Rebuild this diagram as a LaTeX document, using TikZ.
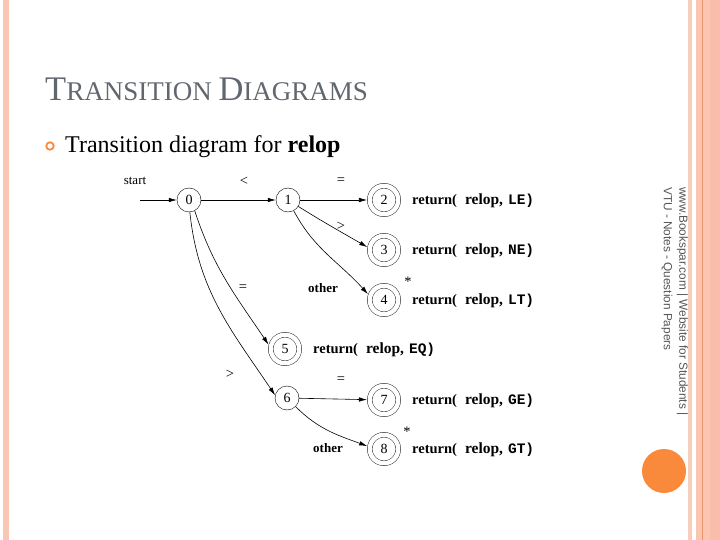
\documentclass[tikz,border=0pt]{standalone}
\usepackage{fontspec}
\setmainfont{Liberation Serif}
\setsansfont{Liberation Sans}
\setmonofont{Liberation Mono}
\usetikzlibrary{arrows.meta}
\definecolor{salmonA}{HTML}{F8C6B3}
\definecolor{salmonB}{HTML}{F9CDBB}
\definecolor{salmonC}{HTML}{FBC5B1}
\definecolor{salmonD}{HTML}{F9BEA9}
\definecolor{orangeL}{HTML}{E9956C}
\definecolor{orangeC}{HTML}{F98A3C}
\definecolor{titlegray}{HTML}{62676F}
\definecolor{markgray}{HTML}{555555}
\tikzset{
  st/.style={circle, draw, minimum size=24pt, inner sep=0pt, font=\fontsize{14}{14}\selectfont},
  acc/.style={st, minimum size=28.5pt, double=white, double distance=4.5pt, outer sep=2.8pt},
  lbl/.style={inner sep=0pt, font=\fontsize{13}{13}\selectfont},
  sym/.style={inner sep=0pt, font=\fontsize{14.5}{14.5}\selectfont},
  ret/.style={anchor=west, inner sep=0pt, font=\fontsize{14.5}{14.5}\selectfont},
  edge/.style={->, line width=0.6pt},
  wmark/.style={rotate=-90, anchor=west, inner sep=0pt, text=markgray, font=\sffamily\fontsize{11.8}{11.8}\selectfont}
}
\newcommand{\retx}[1]{\textbf{return(}\hspace{8pt}{\fontsize{15.5}{15.5}\selectfont\textbf{relop,}}\hspace{5pt}{\ttfamily\bfseries #1)}}
\begin{document}
\begin{tikzpicture}[x=1pt,y=-1pt, >={Latex[length=8pt,width=4.5pt]}]
\useasboundingbox (0,0) rectangle (720,540);
% borders
\fill[salmonA] (3,0) rectangle (9,540);
\fill[salmonB] (688,0) rectangle (692,540);
\fill[salmonC] (696,0) rectangle (710,540);
\fill[salmonD] (710,0) rectangle (720,540);
\fill[orangeL] (702,0) rectangle (703.3,540);
\node[circle, fill=orangeC, minimum size=44pt, inner sep=0pt] (dot) at (664,471) {};
% watermark
\node[wmark] (wm1) at (682.5,187) {www.Bookspar.com | Website for Students |};
\node[wmark] (wm2) at (667,187) {VTU - Notes - Question Papers};
% title
\node[anchor=base west, text=titlegray, inner sep=0pt] (title) at (45,101)
  {\fontsize{34.5}{34.5}\selectfont T\fontsize{27}{27}\selectfont RANSITION \fontsize{34.5}{34.5}\selectfont D\fontsize{27}{27}\selectfont IAGRAMS};
\node[circle, draw=orangeC, line width=1.8pt, minimum size=7.5pt, inner sep=0pt] (bullet) at (50,146) {};
\node[anchor=base west, inner sep=0pt] (sub) at (65,153)
  {\fontsize{24}{24}\selectfont Transition diagram for \textbf{relop}};
% states
\node[st] (s0) at (189,200) {0};
\node[st] (s1) at (288,200) {1};
\node[acc] (s2) at (384,200) {2};
\node[acc] (s3) at (384,250) {3};
\node[acc] (s4) at (384,300) {4};
\node[acc] (s5) at (285,349) {5};
\node[st] (s6) at (287,398) {6};
\node[acc] (s7) at (384,400) {7};
\node[acc] (s8) at (384,449) {8};
% returns
\node[ret] (r2) at (412,201) {\retx{LE}};
\node[ret] (r3) at (412,251) {\retx{NE}};
\node[ret] (r4) at (412,301) {\retx{LT}};
\node[ret] (r5) at (313,350) {\retx{EQ}};
\node[ret] (r7) at (412,401) {\retx{GE}};
\node[ret] (r8) at (412,450) {\retx{GT}};
% labels
\node[lbl] (startl) at (135,181) {start};
\coordinate (startpt) at (140,200);
\node[sym] (l01) at (244,181) {<};
\node[sym] (l12) at (341,181) {=};
\node[sym] (l13) at (341,226) {>};
\node[lbl] (l14) at (323,288) {\textbf{other}};
\node[sym] (l05) at (243,288) {=};
\node[sym] (star4) at (408,282) {*};
\node[sym] (l06) at (230,374) {>};
\node[sym] (l67) at (341,380) {=};
\node[sym] (star8) at (407,432) {*};
\node[lbl] (l68) at (328,448) {\textbf{other}};
% edges
\draw[edge] (startpt) -- (s0);
\draw[edge] (s0) -- (s1);
\draw[edge] (s1) -- (s2);
\draw[edge] (s1) to[out=-32,in=150] (s3.170);
\draw[edge] (s1) to[out=-62,in=132] (s4.160);
\draw[edge] (s0.-62) to[out=-72,in=124] (s5.165);
\draw[edge] (s0.-86) to[out=-84,in=124] (s6.167);
\draw[edge] (s6) -- (s7);
\draw[edge] (s6) to[out=-45,in=160] (s8.170);
\end{tikzpicture}
\end{document}
